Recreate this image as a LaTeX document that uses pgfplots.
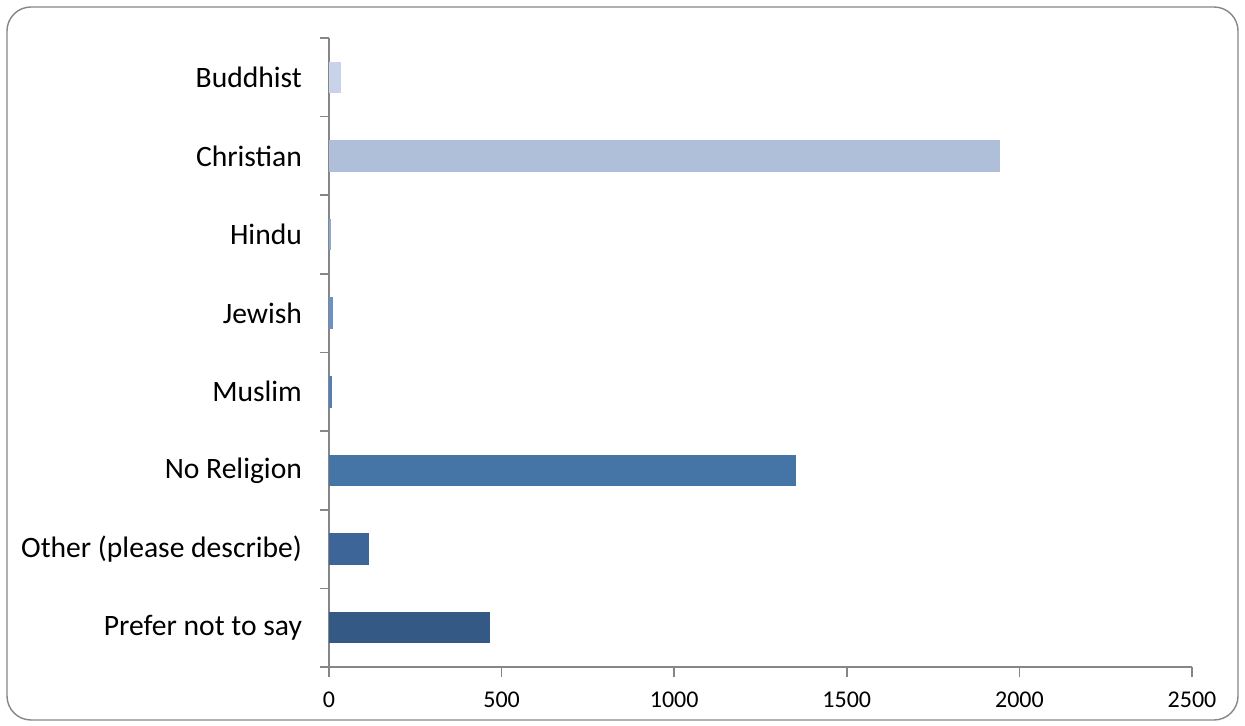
\documentclass[border=0pt]{standalone}
\usepackage{pgfplots}
\pgfplotsset{compat=1.18}
\usepackage{fontspec}
\setmainfont{Carlito}
\definecolor{axgray}{RGB}{134,134,134}
\definecolor{c1}{RGB}{200,210,232}
\definecolor{c2}{RGB}{175,191,218}
\definecolor{c3}{RGB}{140,168,210}
\definecolor{c4}{RGB}{108,145,200}
\definecolor{c5}{RGB}{84,126,186}
\definecolor{c6}{RGB}{69,116,167}
\definecolor{c7}{RGB}{62,101,151}
\definecolor{c8}{RGB}{53,89,133}
\begin{document}
\begin{tikzpicture}
\fill[white] (0,0) rectangle (622.5pt,363pt);
\draw[axgray, line width=0.7pt, rounded corners=12pt] (3.5pt,3pt) rectangle (619pt,359.5pt);
\begin{axis}[
  at={(164.5pt,29.5pt)}, anchor=south west,
  scale only axis, width=431.5pt, height=314.5pt,
  xmin=0, xmax=2500, ymin=-0.5, ymax=7.5, y dir=reverse,
  axis lines*=left,
  axis line style={axgray, line width=0.85pt},
  every tick/.style={axgray, line width=0.85pt},
  tick align=outside,
  xtick={0,500,1000,1500,2000,2500},
  major tick length=5pt,
  ytick={0,...,7},
  yticklabels={Buddhist,Christian,Hindu,Jewish,Muslim,No Religion,Other (please describe),Prefer not to say},
  minor ytick={-0.5,0.5,...,7.5},
  minor tick length=4.5pt,
  every major y tick/.append style={draw=none},
  yticklabel style={xshift=-5pt, font=\fontsize{14.8pt}{17pt}\selectfont},
  xticklabel style={yshift=-4pt, font=\fontsize{12pt}{14pt}\selectfont},
  tick label style={text=black},
  /pgf/number format/assume math mode=true,
  /pgf/number format/1000 sep={},
  scaled x ticks=false,
  xbar, bar width=0.4, bar shift=0pt,
  clip=false,
]
\addplot[fill=c1, draw=none] coordinates {(35,0)};
\addplot[fill=c2, draw=none] coordinates {(1944,1)};
\addplot[fill=c3, draw=none] coordinates {(5,2)};
\addplot[fill=c4, draw=none] coordinates {(12,3)};
\addplot[fill=c5, draw=none] coordinates {(8,4)};
\addplot[fill=c6, draw=none] coordinates {(1353,5)};
\addplot[fill=c7, draw=none] coordinates {(116,6)};
\addplot[fill=c8, draw=none] coordinates {(466,7)};
\end{axis}
\end{tikzpicture}
\end{document}
